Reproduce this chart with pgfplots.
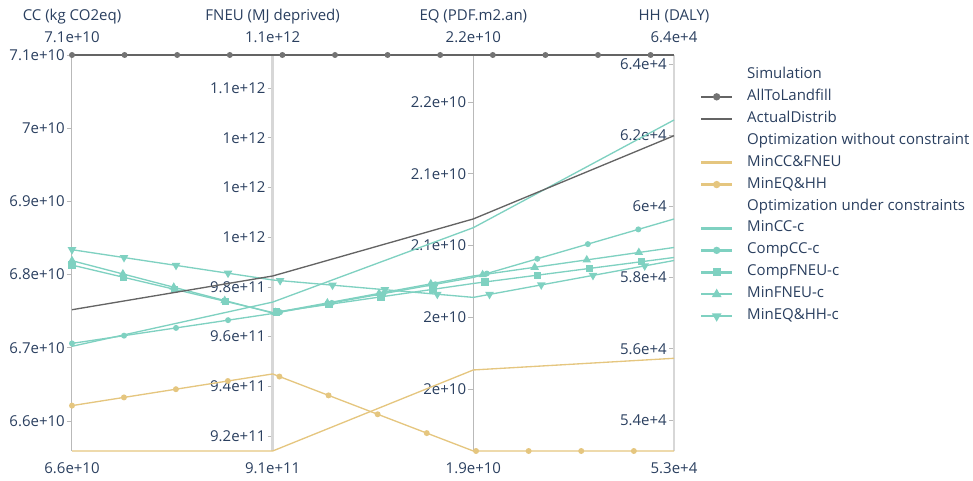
\documentclass[border=0pt]{standalone}
\usepackage{pgfplots}
\pgfplotsset{compat=1.18}
\usepackage{pgfplotstable}
\usepackage{fontspec}
\setmainfont{Open Sans}
\usetikzlibrary{decorations.markings,shapes.geometric}
\definecolor{navy}{RGB}{42,63,95}
\definecolor{grayline}{RGB}{100,100,100}
\definecolor{graymk}{RGB}{115,115,115}
\definecolor{yel}{RGB}{229,198,127}
\definecolor{tea}{RGB}{127,209,193}
\definecolor{axgray}{RGB}{185,185,185}
\definecolor{axlight}{RGB}{215,215,215}

% values on the four parallel axes (row = axis), lo/hi = axis range
\pgfplotstableread{
ax lo hi AllToLandfill ActualDistrib MinCCFNEU MinEQHH MinCCc CompCCc CompFNEUc MinFNEUc MinEQHHc
0 6.559e10 7.1e10 7.1e10 6.752e10 6.559e10 6.621e10 6.702e10 6.706e10 6.813e10 6.819e10 6.834e10
1 9.14e11 1.0733e12 1.0733e12 9.844e11 9.14e11 9.45e11 9.739e11 9.693e11 9.697e11 9.695e11 9.828e11
2 1.9068e10 2.1829e10 2.1829e10 2.0686e10 1.9633e10 1.9068e10 2.0625e10 2.0278e10 2.0236e10 2.0288e10 2.0139e10
3 53129 64253 64253 61986 55733 53129 62427 59646 58565 58846 58480
}\data

\newcommand{\nrm}[1]{(\thisrow{#1}-\thisrow{lo})/(\thisrow{hi}-\thisrow{lo})}
\newcommand{\lbl}{\fontsize{11.25}{13.5}\selectfont}

\tikzset{
  mcirc/.style={circle,inner sep=0pt,minimum size=4.5pt,draw=none},
  msq/.style={rectangle,inner sep=0pt,minimum size=5.5pt,draw=none},
  mtri/.style={regular polygon,regular polygon sides=3,inner sep=0pt,minimum size=7.5pt,draw=none},
  mtrid/.style={mtri,shape border rotate=180},
  markedpath/.style 2 args={postaction={decorate,decoration={markings,mark=between positions 0 and 1 step 39.45pt with {\node[#1,fill=#2]{};}}}},
}

\pgfplotsset{
  paraxis/.style={scale only axis, width=10pt, height=297pt, anchor=south west,
    xmin=0, xmax=1, axis x line=none, axis y line*=left,
    scaled y ticks=false, clip=false,
    tick align=outside, major tick length=3.75pt,
    ytick style={draw=axgray, line width=0.6pt},
    yticklabel style={font=\lbl, text=navy, inner xsep=1.5pt},
  },
}

\begin{document}
\begin{tikzpicture}
\path[use as bounding box] (-54pt,-22.5pt) rectangle (675.75pt,338.25pt);

% CC axis
\begin{axis}[paraxis, at={(0pt,0pt)}, ymin=6.559e10, ymax=7.1e10,
  ytick={6.6e10,6.7e10,6.8e10,6.9e10,7e10,7.1e10},
  yticklabels={6.6e+10,6.7e+10,6.8e+10,6.9e+10,7e+10,7.1e+10},
  y axis line style={draw=axgray, line width=0.75pt}]
\node[font=\lbl, text=navy, yshift=29pt] at (rel axis cs:0,1) {CC (kg CO2eq)};
\node[font=\lbl, text=navy, yshift=13.5pt] at (rel axis cs:0,1) {7.1e+10};
\node[font=\lbl, text=navy, yshift=-13pt] at (rel axis cs:0,0) {6.6e+10};
\end{axis}

% FNEU axis
\begin{axis}[paraxis, at={(150.5pt,0pt)}, ymin=9.14e11, ymax=1.0733e12,
  ytick={9.2e11,9.4e11,9.6e11,9.8e11,1e12,1.02e12,1.04e12,1.06e12},
  yticklabels={9.2e+11,9.4e+11,9.6e+11,9.8e+11,1e+12,1e+12,1e+12,1.1e+12},
  y axis line style={draw=axlight, line width=2.2pt}]
\node[font=\lbl, text=navy, yshift=29pt] at (rel axis cs:0,1) {FNEU (MJ deprived)};
\node[font=\lbl, text=navy, yshift=13.5pt] at (rel axis cs:0,1) {1.1e+12};
\node[font=\lbl, text=navy, yshift=-13pt] at (rel axis cs:0,0) {9.1e+11};
\end{axis}

% EQ axis
\begin{axis}[paraxis, at={(301pt,0pt)}, ymin=1.9068e10, ymax=2.1829e10,
  ytick={1.95e10,2e10,2.05e10,2.1e10,2.15e10},
  yticklabels={2e+10,2e+10,2.1e+10,2.1e+10,2.2e+10},
  y axis line style={draw=axgray, line width=0.75pt}]
\node[font=\lbl, text=navy, yshift=29pt] at (rel axis cs:0,1) {EQ (PDF.m2.an)};
\node[font=\lbl, text=navy, yshift=13.5pt] at (rel axis cs:0,1) {2.2e+10};
\node[font=\lbl, text=navy, yshift=-13pt] at (rel axis cs:0,0) {1.9e+10};
\end{axis}

% HH axis
\begin{axis}[paraxis, at={(451.5pt,0pt)}, ymin=53129, ymax=64253,
  ytick={54000,56000,58000,60000,62000,64000},
  yticklabels={5.4e+4,5.6e+4,5.8e+4,6e+4,6.2e+4,6.4e+4},
  y axis line style={draw=axlight, line width=2.2pt}]
\node[font=\lbl, text=navy, yshift=29pt] at (rel axis cs:0,1) {HH (DALY)};
\node[font=\lbl, text=navy, yshift=13.5pt] at (rel axis cs:0,1) {6.4e+4};
\node[font=\lbl, text=navy, yshift=-13pt] at (rel axis cs:0,0) {5.3e+4};
\end{axis}

% data
\begin{axis}[scale only axis, width=451.5pt, height=297pt, at={(0pt,0pt)}, anchor=south west,
  xmin=0, xmax=3, ymin=0, ymax=1, hide axis, clip=false,
  legend style={at={(1.043,0.9685)}, anchor=north west, draw=none, fill=none,
    font=\lbl, text=navy, inner sep=0pt, row sep=5.7pt,
    nodes={inner sep=0pt, text height=8pt, text depth=2.75pt},
    /tikz/every odd column/.append style={column sep=10.5pt}},
  legend cell align=left,
  legend image code/.code={\draw[mark repeat=2,mark phase=2,#1] plot coordinates {(0pt,0pt)(11.5pt,0pt)(23pt,0pt)};},
]
\addplot[color=yel, line width=1pt, forget plot] table[x=ax, y expr={\nrm{MinCCFNEU}}] {\data};
\addplot[color=yel, line width=1pt, markedpath={mcirc}{yel}, forget plot] table[x=ax, y expr={\nrm{MinEQHH}}] {\data};
\addplot[color=tea, line width=1pt, forget plot] table[x=ax, y expr={\nrm{MinCCc}}] {\data};
\addplot[color=tea, line width=1pt, markedpath={mcirc}{tea}, forget plot] table[x=ax, y expr={\nrm{CompCCc}}] {\data};
\addplot[color=tea, line width=1pt, markedpath={msq}{tea}, forget plot] table[x=ax, y expr={\nrm{CompFNEUc}}] {\data};
\addplot[color=tea, line width=1pt, markedpath={mtri}{tea}, forget plot] table[x=ax, y expr={\nrm{MinFNEUc}}] {\data};
\addplot[color=tea, line width=1pt, markedpath={mtrid}{tea}, forget plot] table[x=ax, y expr={\nrm{MinEQHHc}}] {\data};
\addplot[color=grayline, line width=1pt, forget plot] table[x=ax, y expr={\nrm{ActualDistrib}}] {\data};
\addplot[color=grayline, line width=1.6pt, markedpath={mcirc}{graymk}, forget plot] table[x=ax, y expr={\nrm{AllToLandfill}}] {\data};

\addlegendimage{empty legend}\addlegendentry{Simulation}
\addlegendimage{color=grayline, line width=1.8pt, mark=*, mark size=1.8pt, mark options={fill=graymk, draw=graymk}}\addlegendentry{AllToLandfill}
\addlegendimage{color=grayline, line width=1.8pt}\addlegendentry{ActualDistrib}
\addlegendimage{empty legend}\addlegendentry{Optimization without constraint}
\addlegendimage{color=yel, line width=1.8pt}\addlegendentry{MinCC\&FNEU}
\addlegendimage{color=yel, line width=1.8pt, mark=*, mark size=1.8pt, mark options={fill=yel, draw=yel}}\addlegendentry{MinEQ\&HH}
\addlegendimage{empty legend}\addlegendentry{Optimization under constraints}
\addlegendimage{color=tea, line width=1.8pt}\addlegendentry{MinCC-c}
\addlegendimage{color=tea, line width=1.8pt, mark=*, mark size=1.8pt, mark options={fill=tea, draw=tea}}\addlegendentry{CompCC-c}
\addlegendimage{color=tea, line width=1.8pt, mark=square*, mark size=2pt, mark options={fill=tea, draw=tea}}\addlegendentry{CompFNEU-c}
\addlegendimage{color=tea, line width=1.8pt, mark=triangle*, mark size=2.4pt, mark options={fill=tea, draw=tea}}\addlegendentry{MinFNEU-c}
\addlegendimage{color=tea, line width=1.8pt, mark=triangle*, mark size=2.4pt, mark options={fill=tea, draw=tea, rotate=180}}\addlegendentry{MinEQ\&HH-c}
\end{axis}
\end{tikzpicture}
\end{document}
